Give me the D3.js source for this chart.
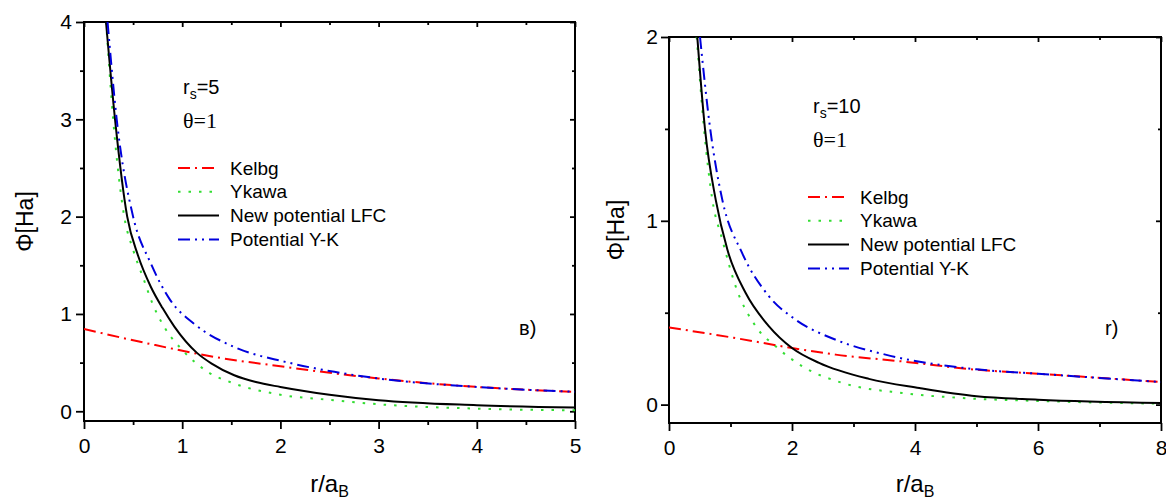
<!DOCTYPE html>
<html>
<head>
<meta charset="utf-8">
<script src="https://cdn.jsdelivr.net/npm/d3@7"></script>
<style>
  body { margin: 0; background: #fff; }
  text { font-family: "Liberation Sans", Arial, sans-serif; fill: #000; }
</style>
</head>
<body>
<svg id="chart" width="1166" height="500"></svg>
<script>
// ---- data: r/a_B and Phi[Ha] ----
// panel в) rs=5, theta=1
var kelbg5_r   = [0, 0.68, 1.36, 2.04, 2.55, 3, 4, 5];
var kelbg5_phi = [0.845, 0.69, 0.553, 0.457, 0.389, 0.337, 0.25, 0.2];
var ykawa5_r   = [0.225, 0.297, 0.41, 0.5, 0.61, 0.7, 0.815, 1.02, 1.26, 1.53, 2.0, 2.55, 3, 4, 5];
var ykawa5_phi = [4.0, 3.0, 2.0, 1.66, 1.35, 1.1, 0.87, 0.61, 0.405, 0.285, 0.17, 0.113, 0.072, 0.027, 0.01];
var lfc5_r     = [0.224, 0.316, 0.44, 0.55, 0.68, 0.8, 0.92, 1.15, 1.3, 1.53, 1.75, 2.0, 2.5, 3, 4, 5];
var lfc5_phi   = [4.0, 3.0, 2.0, 1.6, 1.28, 1.06, 0.87, 0.6, 0.49, 0.37, 0.3, 0.25, 0.17, 0.113, 0.062, 0.038];
var yk5_r      = [0.24, 0.333, 0.5, 0.68, 0.88, 1.12, 1.53, 2.04, 2.55, 3, 4, 5];
var yk5_phi    = [4.0, 3.0, 2.0, 1.52, 1.14, 0.9, 0.66, 0.51, 0.405, 0.337, 0.25, 0.2];

// panel r) rs=10, theta=1
var kelbg10_r   = [0, 1.08, 2.0, 2.71, 3.79, 5, 6, 8];
var kelbg10_phi = [0.42, 0.362, 0.308, 0.272, 0.235, 0.19, 0.168, 0.123];
var ykawa10_r   = [0.45, 0.57, 0.705, 0.867, 1.084, 1.41, 1.734, 2.17, 2.82, 3.79, 4.77, 6, 8];
var ykawa10_phi = [2.0, 1.5, 1.114, 0.897, 0.643, 0.426, 0.317, 0.208, 0.118, 0.063, 0.036, 0.02, 0.005];
var lfc10_r     = [0.46, 0.585, 0.76, 0.95, 1.247, 1.626, 2.0, 2.44, 3.25, 4.07, 5, 6, 8];
var lfc10_phi   = [2.0, 1.5, 1.114, 0.842, 0.607, 0.426, 0.308, 0.227, 0.14, 0.09, 0.045, 0.027, 0.009];
var yk10_r      = [0.504, 0.67, 0.867, 1.19, 1.626, 2.06, 2.71, 3.52, 5, 6, 8];
var yk10_phi    = [2.0, 1.5, 1.114, 0.824, 0.589, 0.462, 0.353, 0.272, 0.192, 0.168, 0.123];

var seriesNames = ["Kelbg", "Ykawa", "New potential LFC", "Potential Y-K"];

// ticks
var xMajor5 = [0, 1, 2, 3, 4, 5], xMinor5 = [0.5, 1.5, 2.5, 3.5, 4.5];
var yMajor5 = [0, 1, 2, 3, 4],    yMinor5 = [0.5, 1.5, 2.5, 3.5];
var xMajor10 = [0, 2, 4, 6, 8],   xMinor10 = [1, 3, 5, 7];
var yMajor10 = [0, 1, 2],         yMinor10 = [0.5, 1.5];

var styles = [
  {color: "#ff0000", dash: "12,5,2,5"},
  {color: "#33dd33", dash: "2.5,8"},
  {color: "#000000", dash: null},
  {color: "#0000dd", dash: "12,5,2,5,2,5"}
];

var svg = d3.select("#chart");

function zip(r, p) { return r.map(function(d, i) { return [d, p[i]]; }); }

function drawPanel(o) {
  var x = d3.scaleLinear().domain(o.xDomain).range([o.left, o.right]);
  var y = d3.scaleLinear().domain(o.yDomain).range([o.bottom, o.top]);
  var g = svg.append("g");

  g.append("clipPath").attr("id", o.id)
    .append("rect").attr("x", o.left).attr("y", o.top)
    .attr("width", o.right - o.left).attr("height", o.bottom - o.top);

  function ax(axis, tx, ty) {
    var a = g.append("g").attr("transform", "translate(" + tx + "," + ty + ")").call(axis);
    a.select(".domain").remove();
    a.selectAll("line").attr("stroke-width", 1.8);
    a.selectAll("text").attr("font-size", 21).attr("font-family", "Liberation Sans, Arial, sans-serif");
    return a;
  }
  // bottom / left, outward ticks
  ax(d3.axisBottom(x).tickValues(o.xMajor).tickSize(8).tickPadding(9).tickFormat(d3.format("d")), 0, o.bottom);
  ax(d3.axisBottom(x).tickValues(o.xMinor).tickSize(4).tickFormat(""), 0, o.bottom);
  ax(d3.axisLeft(y).tickValues(o.yMajor).tickSize(8).tickPadding(o.yPad).tickFormat(d3.format("d")), o.left, 0);
  ax(d3.axisLeft(y).tickValues(o.yMinor).tickSize(4).tickFormat(""), o.left, 0);
  // top / right, inward ticks
  ax(d3.axisTop(x).tickValues(o.xMajor).tickSize(-5).tickFormat(""), 0, o.top);
  ax(d3.axisTop(x).tickValues(o.xMinor).tickSize(-3).tickFormat(""), 0, o.top);
  ax(d3.axisRight(y).tickValues(o.yMajor).tickSize(-5).tickFormat(""), o.right, 0);
  ax(d3.axisRight(y).tickValues(o.yMinor).tickSize(-3).tickFormat(""), o.right, 0);

  g.append("rect").attr("x", o.left).attr("y", o.top)
    .attr("width", o.right - o.left).attr("height", o.bottom - o.top)
    .attr("fill", "none").attr("stroke", "#000").attr("stroke-width", 2);

  var line = d3.line().x(d => x(d[0])).y(d => y(d[1])).curve(d3.curveMonotoneX);
  var curves = g.append("g").attr("clip-path", "url(#" + o.id + ")");
  o.series.forEach(function(s, i) {
    curves.append("path").datum(s)
      .attr("d", line)
      .attr("fill", "none")
      .attr("stroke", styles[i].color)
      .attr("stroke-width", 2)
      .attr("stroke-dasharray", styles[i].dash);
  });

  // legend
  seriesNames.forEach(function(name, i) {
    var ly = o.legY + i * 23.8;
    g.append("line").attr("x1", o.legX).attr("x2", o.legX + 41).attr("y1", ly).attr("y2", ly)
      .attr("stroke", styles[i].color).attr("stroke-width", 2)
      .attr("stroke-dasharray", styles[i].dash);
    g.append("text").attr("x", o.legX + 52).attr("y", ly).attr("dy", "0.35em")
      .attr("font-size", 19).text(name);
  });

  // r_s and theta
  var t = g.append("text").attr("x", o.legX + 5).attr("y", o.rsY).attr("font-size", 20);
  t.append("tspan").text("r");
  t.append("tspan").attr("font-size", 14).attr("dy", 5).text("s");
  t.append("tspan").attr("dy", -5).text("=" + o.rs);
  g.append("text").attr("x", o.legX + 5).attr("y", o.rsY + 34)
    .attr("font-size", 22).style("font-family", "Liberation Serif, Times New Roman, serif")
    .text("θ=1");

  // panel letter
  g.append("text").attr("x", o.letterX).attr("y", 335).attr("font-size", 20).text(o.letter);

  // axis titles
  var xt = g.append("text").attr("x", (o.left + o.right) / 2).attr("y", 492)
    .attr("text-anchor", "middle").attr("font-size", 24);
  xt.append("tspan").text("r/a");
  xt.append("tspan").attr("font-size", 16).attr("dy", 5).text("B");
  g.append("text")
    .attr("transform", "translate(" + o.yTitleX + "," + ((o.top + o.bottom) / 2) + ") rotate(-90)")
    .attr("text-anchor", "middle").attr("dy", "0.35em").attr("font-size", 23)
    .text("Φ[Ha]");
}

drawPanel({
  id: "clip5", left: 84, right: 575, top: 22, bottom: 421,
  xDomain: [0, 5], yDomain: [-0.1, 4],
  xMajor: xMajor5, xMinor: xMinor5, yMajor: yMajor5, yMinor: yMinor5, yPad: 4,
  series: [zip(kelbg5_r, kelbg5_phi), zip(ykawa5_r, ykawa5_phi), zip(lfc5_r, lfc5_phi), zip(yk5_r, yk5_phi)],
  legX: 178, legY: 168, rsY: 94, rs: "5",
  letter: "в)", letterX: 519, yTitleX: 25
});

drawPanel({
  id: "clip10", left: 669, right: 1161, top: 37, bottom: 423,
  xDomain: [0, 8], yDomain: [-0.1, 2],
  xMajor: xMajor10, xMinor: xMinor10, yMajor: yMajor10, yMinor: yMinor10, yPad: 3,
  series: [zip(kelbg10_r, kelbg10_phi), zip(ykawa10_r, ykawa10_phi), zip(lfc10_r, lfc10_phi), zip(yk10_r, yk10_phi)],
  legX: 808, legY: 197, rsY: 113, rs: "10",
  letter: "r)", letterX: 1105, yTitleX: 616
});
</script>
</body>
</html>
